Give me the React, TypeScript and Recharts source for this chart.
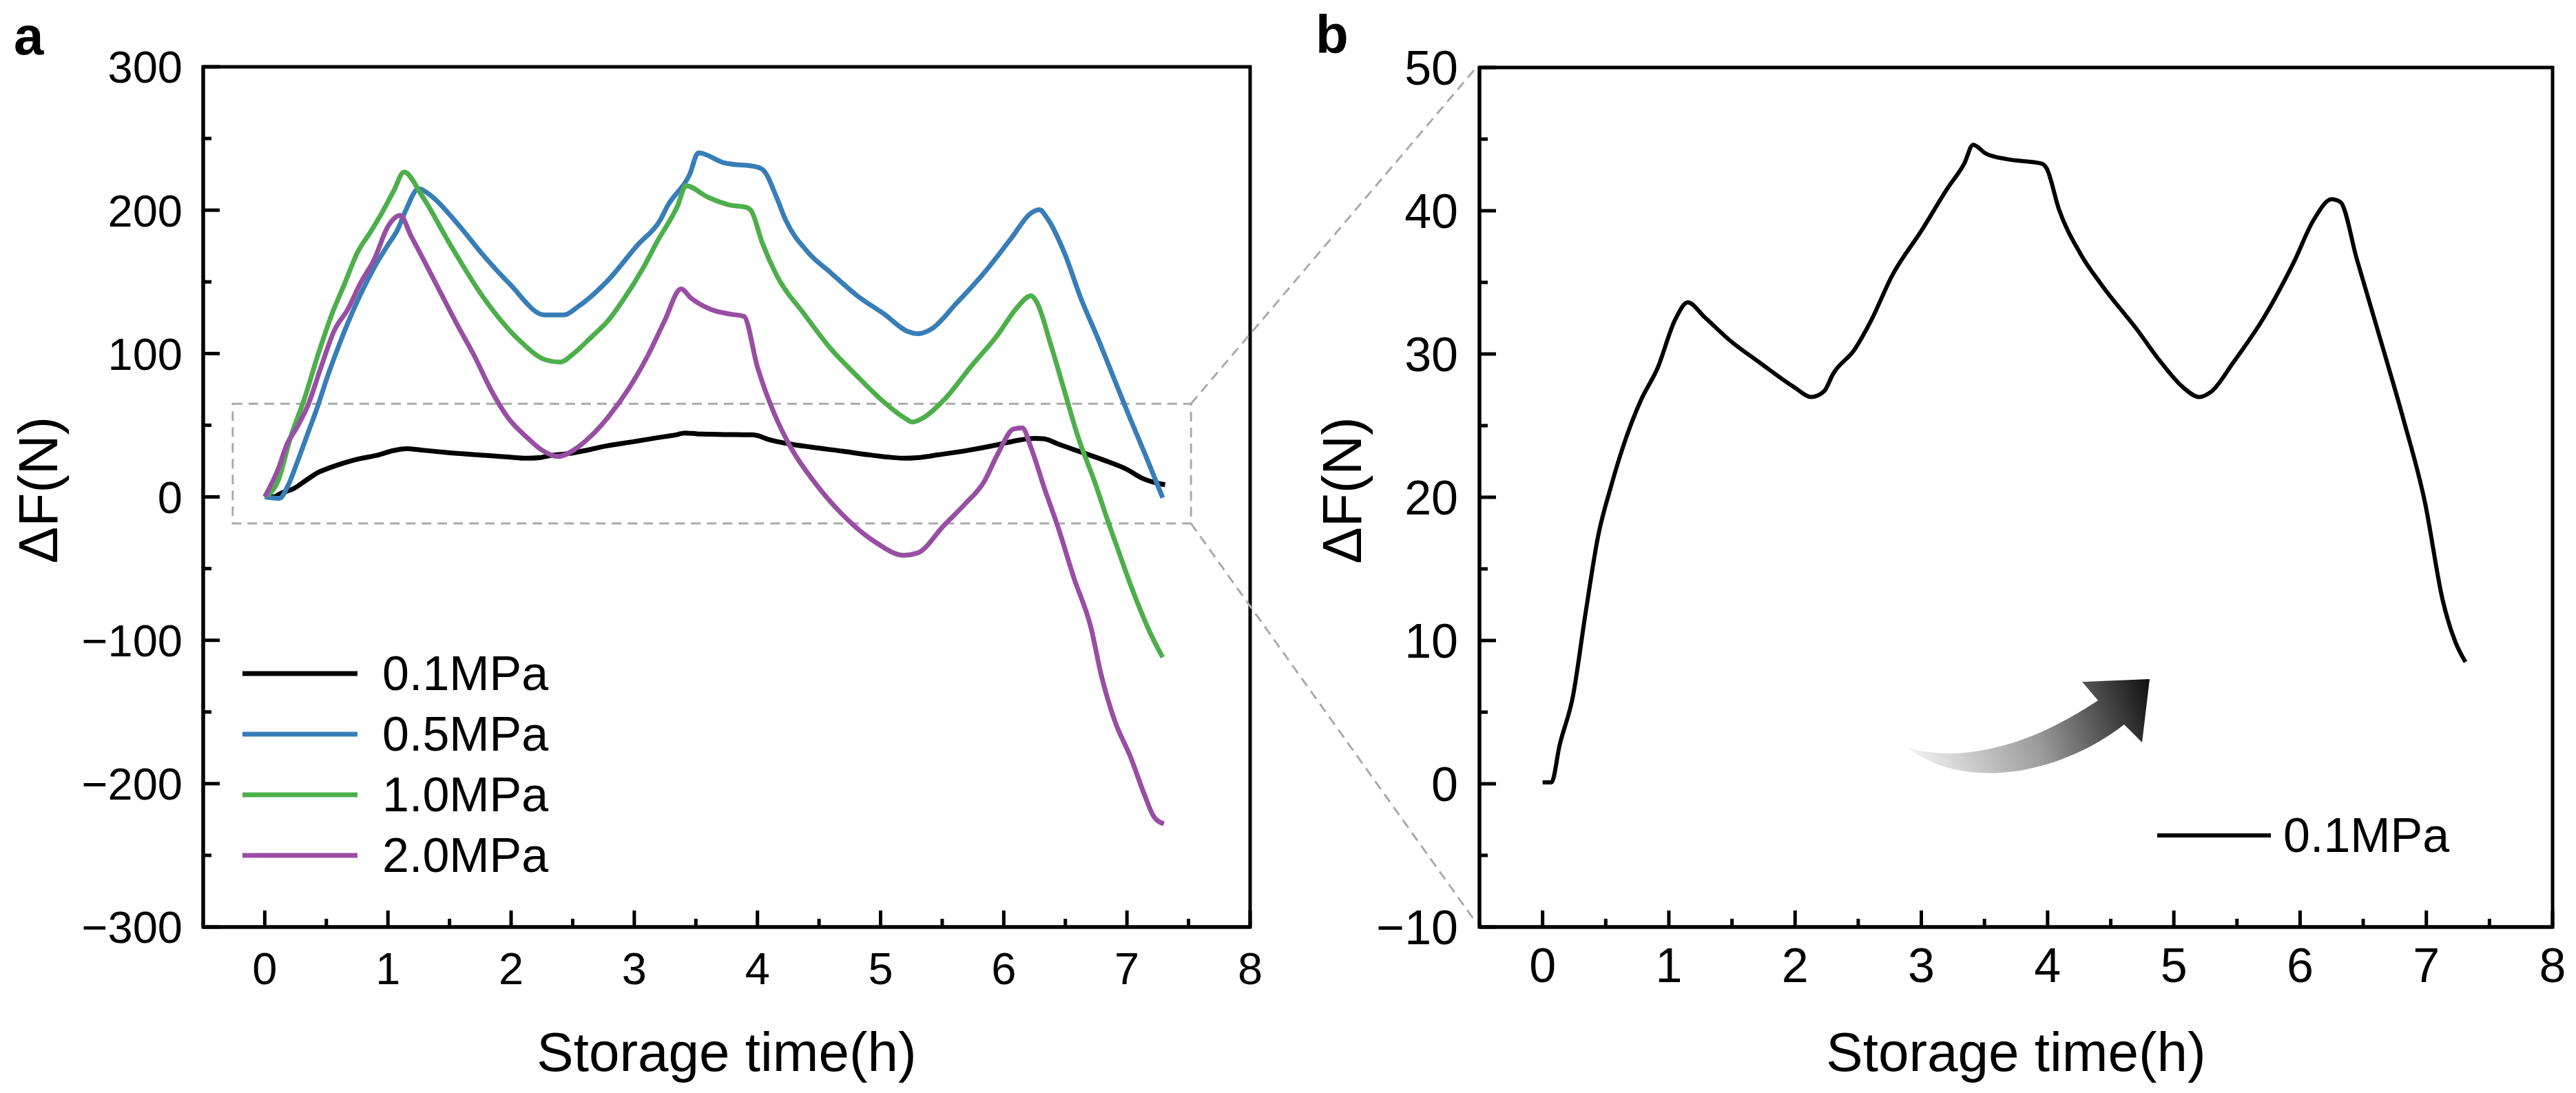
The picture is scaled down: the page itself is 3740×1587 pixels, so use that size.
import React from 'react';
import { LineChart, Line, XAxis, YAxis, ReferenceArea, Legend } from 'recharts';

const FONT = '"Liberation Sans", Arial, Helvetica, sans-serif';

// storage time (h) and force change (N)
const time01 = [0, 0.07, 0.135, 0.24, 0.34, 0.44, 0.54, 0.64, 0.78, 0.91, 1.05, 1.15, 1.28, 1.49, 1.72, 1.99, 2.13, 2.23, 2.3, 2.47, 2.6, 2.77, 3.0, 3.21, 3.34, 3.41, 3.51, 3.68, 3.95, 3.99, 4.09, 4.26, 4.43, 4.7, 4.9, 5.07, 5.2, 5.3, 5.47, 5.71, 5.95, 6.11, 6.25, 6.32, 6.45, 6.66, 6.82, 6.99, 7.13, 7.23, 7.31];
const force01 = [0.1, 0.1, 2.7, 6.1, 11.9, 17.3, 20.7, 23.6, 26.8, 29, 32.4, 33.6, 32.6, 30.9, 29.4, 27.7, 27.0, 27.4, 28.6, 30.3, 32.3, 35.5, 38.6, 41.6, 43.3, 44.6, 44.0, 43.6, 43.3, 43.0, 40.1, 37.0, 34.8, 31.8, 29.4, 27.7, 27.0, 27.4, 29.4, 32.5, 36.4, 39.4, 40.8, 40.6, 36.6, 30.3, 25.4, 19.6, 12.8, 9.9, 8.5];

const time05 = [0, 0.12, 0.186, 0.267, 0.348, 0.43, 0.51, 0.592, 0.673, 0.754, 0.836, 0.917, 0.998, 1.08, 1.14, 1.25, 1.35, 1.57, 1.78, 1.99, 2.27, 2.43, 2.54, 2.78, 3.03, 3.21, 3.27, 3.45, 3.52, 3.73, 4.0, 4.06, 4.155, 4.23, 4.41, 4.6, 4.81, 5.03, 5.22, 5.3, 5.41, 5.62, 5.84, 6.06, 6.22, 6.29, 6.35, 6.49, 6.625, 6.76, 6.895, 7.03, 7.17, 7.29];
const force05 = [0, -1, 7.4, 25, 44, 63.4, 84.2, 103.4, 121, 137, 151.5, 164.3, 175.5, 186.7, 199, 215, 210, 190, 168, 148.4, 127, 127, 132.5, 150.5, 176, 193, 203, 225, 240, 233, 230, 226.7, 209, 193, 170.7, 156, 140.3, 127.5, 115.4, 113.8, 117, 135.5, 156.3, 180.3, 197.9, 200.3, 194.7, 170.7, 138.7, 111.4, 82.6, 53.8, 25, -0.6];

const time10 = [0, 0.105, 0.213, 0.321, 0.43, 0.538, 0.646, 0.754, 0.86, 0.96, 1.05, 1.13, 1.28, 1.494, 1.78, 2.07, 2.28, 2.4, 2.51, 2.65, 2.785, 2.92, 3.06, 3.19, 3.35, 3.42, 3.6, 3.78, 3.91, 3.95, 4.04, 4.155, 4.38, 4.595, 4.81, 5.0, 5.19, 5.26, 5.35, 5.52, 5.73, 5.95, 6.11, 6.22, 6.27, 6.38, 6.49, 6.6, 6.74, 6.85, 6.95, 7.03, 7.11, 7.19, 7.29];
const force10 = [0, 10.6, 42.6, 68.2, 98.6, 125.9, 148.3, 170.7, 185, 199.5, 214, 226.6, 209.6, 177.7, 138.5, 109, 95.6, 94, 100.2, 111.4, 122.7, 138.7, 157.9, 178.7, 202.7, 217, 209, 203.5, 201.9, 199.5, 177, 154.7, 127.5, 103.4, 84.2, 68.2, 55.4, 52.2, 55.4, 68.2, 90.6, 113, 132.3, 140.3, 135.5, 106.6, 74.6, 42.6, 10, -18, -42.3, -61.5, -79.1, -95.1, -111.9];

const time20 = [0, 0.105, 0.186, 0.254, 0.348, 0.457, 0.565, 0.673, 0.782, 0.89, 0.998, 1.1, 1.188, 1.296, 1.431, 1.567, 1.7, 1.837, 1.973, 2.135, 2.244, 2.38, 2.514, 2.65, 2.785, 2.948, 3.11, 3.245, 3.38, 3.46, 3.625, 3.78, 3.89, 4.0, 4.134, 4.27, 4.46, 4.675, 4.95, 5.19, 5.3, 5.515, 5.68, 5.84, 5.95, 6.08, 6.15, 6.22, 6.33, 6.44, 6.57, 6.71, 6.79, 6.9, 7.03, 7.14, 7.22, 7.3];
const force20 = [0, 18.6, 37.8, 47.4, 63.4, 90.6, 116.2, 130.7, 149.9, 165.9, 188.3, 196.3, 181.9, 164.3, 141.9, 119.4, 98.6, 74.6, 55.4, 41, 33, 28.2, 33, 42.6, 55.4, 74.6, 98.6, 122.6, 145.1, 138.7, 130.7, 127.5, 125.9, 90.6, 58.6, 34.6, 10.6, -11, -31.1, -40.7, -39.1, -19.8, -5.4, 10.6, 29.8, 47.4, 48.2, 34.6, 6, -21, -56.7, -91.9, -123.9, -155.9, -181.6, -207.2, -223.2, -228];

const xTicks = [0, 0.5, 1, 1.5, 2, 2.5, 3, 3.5, 4, 4.5, 5, 5.5, 6, 6.5, 7, 7.5, 8];
const yTicksA = [-300, -250, -200, -150, -100, -50, 0, 50, 100, 150, 200, 250, 300];
const yTicksB = [-10, -5, 0, 5, 10, 15, 20, 25, 30, 35, 40, 45, 50];

const toPoints = (ts: number[], vs: number[]) => ts.map((t, i) => ({ t, v: vs[i] }));

const seriesA = [
  { name: '0.1MPa', color: '#000000', data: toPoints(time01, force01) },
  { name: '0.5MPa', color: '#377eb8', data: toPoints(time05, force05) },
  { name: '1.0MPa', color: '#4daf4a', data: toPoints(time10, force10) },
  { name: '2.0MPa', color: '#984ea3', data: toPoints(time20, force20) },
];

// page layout (px)
const H = 1587;
const YW = 200;
const XH = 120;
const AXIS_W = 5;
const A = { left: 0, width: 1900, plotL: 295, plotR: 1815, plotT: 97, plotB: 1346 };
const B = { left: 1900, width: 1840, plotL: 2148, plotR: 3706, plotT: 98, plotB: 1346 };

const marginOf = (p: typeof A) => ({
  top: p.plotT,
  left: p.plotL - p.left - YW,
  right: p.left + p.width - p.plotR,
  bottom: H - p.plotB - XH,
});

// zoom box of panel a, in data units
const zoomBox = { x1: -0.26, x2: 7.52, y1: -18.5, y2: 65 };

const fmt = (v: number) => (v < 0 ? `\u2212${Math.abs(v)}` : `${v}`);

const makeYTick = (majorStep: number, margin: number, fontSize: number) => (props: any) => {
  const { x, y, payload } = props;
  const v = payload.value;
  const ax = x + margin;
  const major = Math.abs(v % majorStep) < 1e-9;
  return (
    <g>
      <line x1={ax} x2={ax + (major ? 24 : 12)} y1={y} y2={y} stroke="#000" strokeWidth={AXIS_W} />
      {major && (
        <text x={x} y={y} dy="0.36em" textAnchor="end" fontSize={fontSize} fontFamily={FONT} fill="#000">
          {fmt(v)}
        </text>
      )}
    </g>
  );
};

const makeXTick = (margin: number, fontSize: number) => (props: any) => {
  const { x, y, payload } = props;
  const v = payload.value;
  const ay = y - margin;
  const major = Number.isInteger(v);
  return (
    <g>
      <line x1={x} x2={x} y1={ay} y2={ay - (major ? 24 : 12)} stroke="#000" strokeWidth={AXIS_W} />
      {major && (
        <text x={x} y={y} dy="0.716em" textAnchor="middle" fontSize={fontSize} fontFamily={FONT} fill="#000">
          {v}
        </text>
      )}
    </g>
  );
};

const xTitle = (props: any) => {
  const { viewBox } = props;
  return (
    <text x={viewBox.x + viewBox.width / 2} y={viewBox.y + 209} textAnchor="middle" fontSize={80} fontFamily={FONT} fill="#000">
      Storage time(h)
    </text>
  );
};

const yTitle = (dx: number) => (props: any) => {
  const { viewBox } = props;
  const cx = viewBox.x + viewBox.width - dx;
  const cy = viewBox.y + viewBox.height / 2 - 10;
  return (
    <text x={cx} y={cy} dy="0.35em" transform={`rotate(-90, ${cx}, ${cy})`} textAnchor="middle" fontSize={80} fontFamily={FONT} fill="#000">
      ΔF(N)
    </text>
  );
};

const legendRows = (lineLen: number, gap: number, lineW: number) => (props: any) => {
  const { payload } = props;
  return (
    <div>
      {(payload || []).map((item: any) => (
        <div key={item.value} style={{ display: 'flex', alignItems: 'center', height: 88 }}>
          <svg width={lineLen} height={12} style={{ display: 'block' }}>
            <line x1={0} x2={lineLen} y1={6} y2={6} stroke={item.color} strokeWidth={lineW} />
          </svg>
          <span style={{ marginLeft: gap, fontSize: 70, lineHeight: '88px', fontFamily: FONT, color: '#000' }}>{item.value}</span>
        </div>
      ))}
    </div>
  );
};

const PanelA = () => (
  <div style={{ position: 'absolute', left: A.left, top: 0 }}>
    <LineChart width={A.width} height={H} margin={marginOf(A)}>
      <XAxis
        type="number"
        dataKey="t"
        domain={[-0.5, 8]}
        ticks={xTicks}
        interval={0}
        allowDataOverflow
        height={XH}
        tickSize={0}
        tickMargin={36}
        tickLine={false}
        axisLine={{ stroke: '#000', strokeWidth: AXIS_W }}
        tick={makeXTick(36, 65)}
        label={{ content: xTitle }}
      />
      <YAxis
        type="number"
        dataKey="v"
        domain={[-300, 300]}
        ticks={yTicksA}
        interval={0}
        allowDataOverflow
        width={YW}
        tickSize={0}
        tickMargin={30}
        tickLine={false}
        axisLine={{ stroke: '#000', strokeWidth: AXIS_W }}
        tick={makeYTick(100, 30, 65)}
        label={{ content: yTitle(240) }}
      />
      <ReferenceArea x1={-0.5} x2={8} y1={-300} y2={300} fill="none" stroke="#000" strokeWidth={AXIS_W} ifOverflow="visible" />
      <ReferenceArea
        x1={zoomBox.x1}
        x2={zoomBox.x2}
        y1={zoomBox.y1}
        y2={zoomBox.y2}
        fill="none"
        stroke="#aaaaaa"
        strokeWidth={3}
        strokeDasharray="14 9"
        ifOverflow="visible"
      />
      {seriesA.map(s => (
        <Line
          key={s.name}
          name={s.name}
          data={s.data}
          dataKey="v"
          type="monotone"
          stroke={s.color}
          strokeWidth={7}
          strokeLinejoin="round"
          dot={false}
          activeDot={false}
          isAnimationActive={false}
        />
      ))}
      <Legend
        layout="vertical"
        align="center"
        verticalAlign="middle"
        wrapperStyle={{ left: 352, top: 934, width: 520 }}
        content={legendRows(167, 36, 7)}
      />
    </LineChart>
  </div>
);

const PanelB = () => (
  <div style={{ position: 'absolute', left: B.left, top: 0 }}>
    <LineChart width={B.width} height={H} margin={marginOf(B)}>
      <XAxis
        type="number"
        dataKey="t"
        domain={[-0.5, 8]}
        ticks={xTicks}
        interval={0}
        allowDataOverflow
        height={XH}
        tickSize={0}
        tickMargin={30}
        tickLine={false}
        axisLine={{ stroke: '#000', strokeWidth: AXIS_W }}
        tick={makeXTick(30, 70)}
        label={{ content: xTitle }}
      />
      <YAxis
        type="number"
        dataKey="v"
        domain={[-10, 50]}
        ticks={yTicksB}
        interval={0}
        allowDataOverflow
        width={YW}
        tickSize={0}
        tickMargin={31}
        tickLine={false}
        axisLine={{ stroke: '#000', strokeWidth: AXIS_W }}
        tick={makeYTick(10, 31, 70)}
        label={{ content: yTitle(200) }}
      />
      <ReferenceArea x1={-0.5} x2={8} y1={-10} y2={50} fill="none" stroke="#000" strokeWidth={AXIS_W} ifOverflow="visible" />
      <Line
        name="0.1MPa"
        data={seriesA[0].data}
        dataKey="v"
        type="monotone"
        stroke="#000"
        strokeWidth={6}
        strokeLinejoin="round"
        dot={false}
        activeDot={false}
        isAnimationActive={false}
      />
      <Legend
        layout="vertical"
        align="center"
        verticalAlign="middle"
        wrapperStyle={{ left: 1232, top: 1169, width: 480 }}
        content={legendRows(165, 18, 6)}
      />
    </LineChart>
  </div>
);

// pixel position of a panel-a data point, for the zoom connector lines
const ax = (t: number) => A.plotL + ((t + 0.5) / 8.5) * (A.plotR - A.plotL);
const ay = (v: number) => A.plotT + ((300 - v) / 600) * (A.plotB - A.plotT);

const Overlay = () => (
  <svg width={3740} height={H} style={{ position: 'absolute', left: 0, top: 0, pointerEvents: 'none' }}>
    <defs>
      <linearGradient id="arrowFill" gradientUnits="userSpaceOnUse" x1={2780} y1={1110} x2={3120} y2={990}>
        <stop offset="0" stopColor="#f2f2f2" />
        <stop offset="0.5" stopColor="#9a9a9a" />
        <stop offset="1" stopColor="#111" />
      </linearGradient>
    </defs>
    <line x1={ax(zoomBox.x2)} y1={ay(zoomBox.y2)} x2={B.plotL - 8} y2={B.plotT + 4} stroke="#aaaaaa" strokeWidth={3} strokeDasharray="14 9" />
    <line x1={ax(zoomBox.x2)} y1={ay(zoomBox.y1)} x2={B.plotL - 6} y2={B.plotB - 8} stroke="#aaaaaa" strokeWidth={3} strokeDasharray="14 9" />
    <path
      d="M2769,1085 C2830,1105 2930,1095 3046,1017 L3023,990 L3121,986 L3110,1078 L3084,1052 C2990,1125 2850,1150 2769,1085 Z"
      fill="url(#arrowFill)"
    />
    <text x={20} y={79} fontSize={78} fontWeight="bold" fontFamily={FONT} fill="#000">a</text>
    <text x={1910} y={77} fontSize={78} fontWeight="bold" fontFamily={FONT} fill="#000">b</text>
  </svg>
);

export default function App() {
  return (
    <div style={{ position: 'absolute', left: 0, top: 0, width: 3740, height: H, background: '#fff', fontFamily: FONT }}>
      <PanelA />
      <PanelB />
      <Overlay />
    </div>
  );
}
